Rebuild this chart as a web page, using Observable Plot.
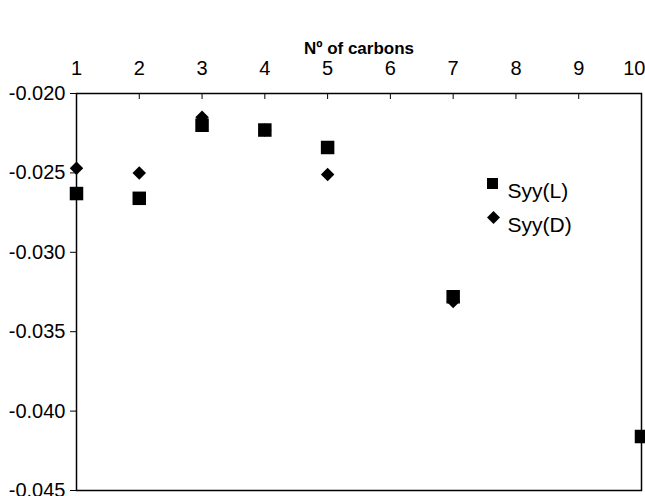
<!DOCTYPE html>
<html><head><meta charset="utf-8">
<script src="https://cdn.jsdelivr.net/npm/d3@7"></script>
<script src="https://cdn.jsdelivr.net/npm/@observablehq/plot@0.6"></script>
<style>body{margin:0;background:#fff;}</style>
</head><body><div id="chart"></div>
<script>
const carbons = [1, 2, 3, 4, 5, 7, 10];
const syyL = [-0.0263, -0.0266, -0.0220, -0.0223, -0.0234, -0.0328, -0.0416];
const syyD = [-0.0247, -0.0250, -0.0215, -0.0223, -0.0251, -0.0331, -0.0416];
const xTicks = [1, 2, 3, 4, 5, 6, 7, 8, 9, 10];
const yTicks = [-0.020, -0.025, -0.030, -0.035, -0.040, -0.045];
const seriesNames = ["Syy(L)", "Syy(D)"];

const dataL = carbons.map((c, i) => ({c, v: syyL[i]}));
const dataD = carbons.map((c, i) => ({c, v: syyD[i]}));

// symbol sizes: square side s -> r = s/sqrt(pi); diamond2 diagonal d -> r = d/1.2525/sqrt(pi)
const sq = s => s / Math.sqrt(Math.PI);
const di = d => d / 1.2525 / Math.sqrt(Math.PI);

const chart = Plot.plot({
  width: 645,
  height: 496,
  marginLeft: 76,
  marginRight: 4,
  marginTop: 93,
  marginBottom: 6,
  style: {fontFamily: "'Liberation Sans', Arial, sans-serif", fontSize: "20px", color: "#000", background: "#fff"},
  x: {domain: [1, 10]},
  y: {domain: [-0.045, -0.020]},
  marks: [
    Plot.frame({stroke: "#000", strokeWidth: 1.5}),
    Plot.axisX({anchor: "top", ticks: xTicks, tickSize: -5, tickPadding: 24, tickFormat: d => String(d),
      label: "Nº of carbons", labelAnchor: "center", labelOffset: 52, labelArrow: "none",
      fontSize: 20}),
    Plot.axisY({anchor: "left", ticks: yTicks, tickSize: 6, tickPadding: 5, tickFormat: d => d.toFixed(3),
      label: null, fontSize: 20}),
    Plot.dot(dataD, {x: "c", y: "v", symbol: "diamond2", r: di(13.5), fill: "#000", stroke: "none"}),
    Plot.dot(dataL, {x: "c", y: "v", symbol: "square", r: sq(13.5), fill: "#000", stroke: "none"}),
    // legend
    Plot.dot([seriesNames[0]], {frameAnchor: "top-left", dx: 416, dy: 90, symbol: "square", r: sq(11), fill: "#000"}),
    Plot.dot([seriesNames[1]], {frameAnchor: "top-left", dx: 417, dy: 124, symbol: "diamond2", r: di(13), fill: "#000"}),
    Plot.text([seriesNames[0]], {frameAnchor: "top-left", dx: 431, dy: 90, text: d => d, textAnchor: "start", fontSize: 21, fill: "#000"}),
    Plot.text([seriesNames[1]], {frameAnchor: "top-left", dx: 431, dy: 124, text: d => d, textAnchor: "start", fontSize: 21, fill: "#000"})
  ]
});
// bold axis title
chart.querySelectorAll("[aria-label='x-axis label'] text").forEach(t => { t.style.fontWeight = "bold"; t.style.fontSize = "17px"; });
// keep the last top tick label inside the picture
const xt = chart.querySelectorAll("[aria-label='x-axis tick label'] text");
if (xt.length) { const last = xt[xt.length - 1]; last.setAttribute("text-anchor", "end"); last.setAttribute("dx", "4"); }
document.getElementById("chart").appendChild(chart);
</script>
</body></html>
